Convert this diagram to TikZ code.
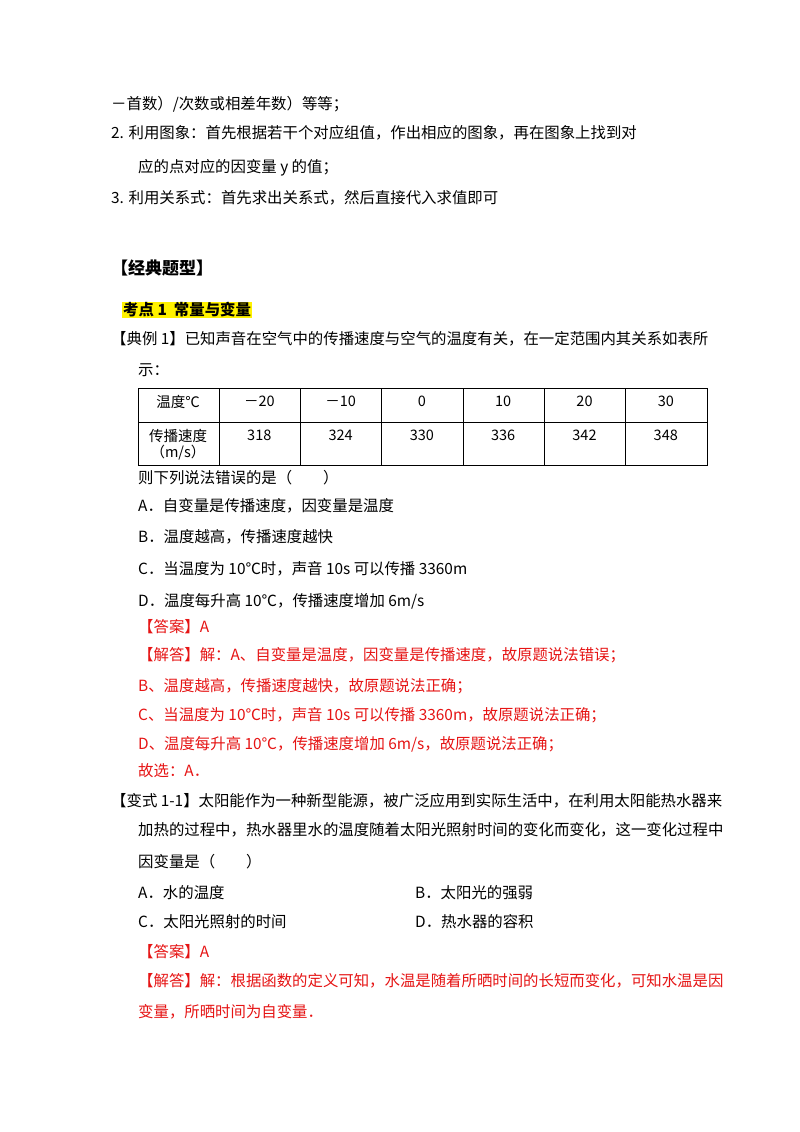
\documentclass[tikz,border=0pt]{standalone}
\usepackage{fontspec}
\setmainfont{Liberation Serif}
\newfontfamily\cjk{Noto Sans CJK SC}
\definecolor{ansred}{RGB}{230,20,20}
\begin{document}
\begin{tikzpicture}[x=1pt,y=-1pt,
  t/.style={anchor=west,inner sep=0pt,font=\cjk\fontsize{15.4}{17}\selectfont},
  r/.style={t,text=ansred},
  c/.style={anchor=center,inner sep=0pt,font=\cjk\fontsize{14.5}{16}\selectfont}]
\useasboundingbox (0,0) rectangle (800,1132);
\fill[white] (0,0) rectangle (800,1132);
\node[t] (l1) at (111,104) {－首数）/次数或相差年数）等等；};
\node[t] (l2) at (111,133) {2. 利用图象：首先根据若干个对应组值，作出相应的图象，再在图象上找到对};
\node[t] (l3) at (138,168) {应的点对应的因变量 y 的值；};
\node[t] (l4) at (111,198) {3. 利用关系式：首先求出关系式，然后直接代入求值即可};
\node[t,font=\cjk\bfseries\fontsize{17}{19}\selectfont] (h1) at (111,268) {【经典题型】};
\node[t,font=\cjk\bfseries\fontsize{15.4}{17}\selectfont,fill=yellow,inner sep=1pt] (h2) at (122,310) {考点 1\ \ 常量与变量};
\node[t] (q1) at (111,339) {【典例 1】已知声音在空气中的传播速度与空气的温度有关，在一定范围内其关系如表所};
\node[t] (q2) at (138,370) {示：};
% table
\draw[line width=0.9pt] (138,388) rectangle (707,465);
\draw[line width=0.9pt] (138,422) -- (707,422);
\foreach \i in {1,...,6} \draw[line width=0.9pt] ({138+\i*81.3},388) -- ({138+\i*81.3},465);
\node[c] (a0) at (178,402) {温度℃};
\node[c] (b0) at (178,436) {传播速度};
\node[c] (b0u) at (178,453) {（\textit{m}/\textit{s}）};
\foreach \v [count=\i] in {－20,－10,0,10,20,30} \node[c] at ({178+\i*81.3},401) {\v};
\foreach \v [count=\i] in {318,324,330,336,342,348} \node[c] at ({178+\i*81.3},435) {\v};
\node[t] (q3) at (138,478) {则下列说法错误的是（　　）};
\node[t] (oa) at (138,506) {A．自变量是传播速度，因变量是温度};
\node[t] (ob) at (138,537) {B．温度越高，传播速度越快};
\node[t] (oc) at (138,569) {C．当温度为 10℃时，声音 10\textit{s} 可以传播 3360\textit{m}};
\node[t] (od) at (138,601) {D．温度每升高 10℃，传播速度增加 6\textit{m}/\textit{s}};
\node[r] (an1) at (138,627) {【答案】A};
\node[r] (s1) at (138,655) {【解答】解：\textit{A}、自变量是温度，因变量是传播速度，故原题说法错误；};
\node[r] (s2) at (138,686) {\textit{B}、温度越高，传播速度越快，故原题说法正确；};
\node[r] (s3) at (138,715) {\textit{C}、当温度为 10℃时，声音 10\textit{s} 可以传播 3360\textit{m}，故原题说法正确；};
\node[r] (s4) at (138,744) {\textit{D}、温度每升高 10℃，传播速度增加 6\textit{m}/\textit{s}，故原题说法正确；};
\node[r] (s5) at (138,771) {故选：\textit{A}．};
\node[t] (v1) at (111,801) {【变式 1-1】太阳能作为一种新型能源，被广泛应用到实际生活中，在利用太阳能热水器来};
\node[t] (v2) at (138,830) {加热的过程中，热水器里水的温度随着太阳光照射时间的变化而变化，这一变化过程中};
\node[t] (v3) at (138,862) {因变量是（　　）};
\node[t] (va) at (138,893) {A．水的温度};
\node[t] (vb) at (415,893) {B．太阳光的强弱};
\node[t] (vc) at (138,922) {C．太阳光照射的时间};
\node[t] (vd) at (415,922) {D．热水器的容积};
\node[r] (an2) at (138,952) {【答案】A};
\node[r] (w1) at (138,981) {【解答】解：根据函数的定义可知，水温是随着所晒时间的长短而变化，可知水温是因};
\node[r] (w2) at (138,1012) {变量，所晒时间为自变量．};
\end{tikzpicture}
\end{document}
